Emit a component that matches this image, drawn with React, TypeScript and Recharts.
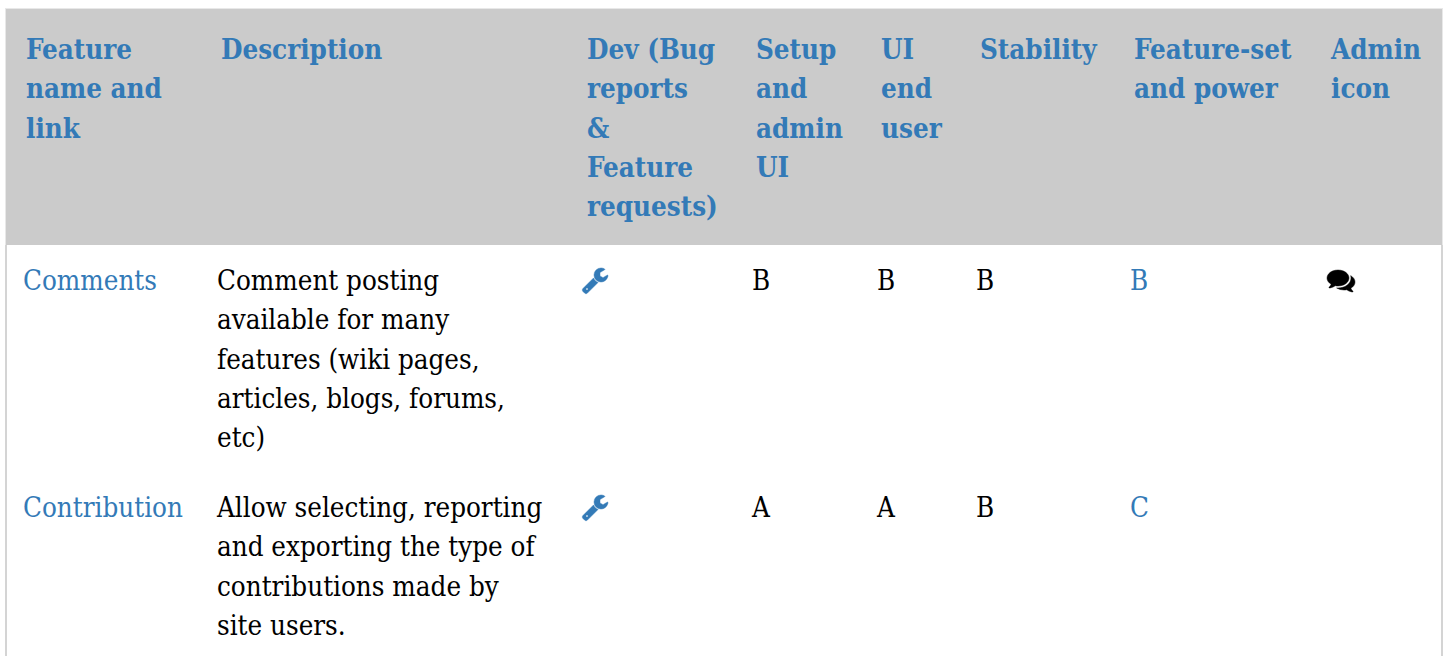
import { ReferenceArea, ReferenceLine, Scatter, ScatterChart, XAxis, YAxis } from "recharts"

// table content
const headers = [
  ["Feature", "name and", "link"],
  ["Description"],
  ["Dev (Bug", "reports", "&", "Feature", "requests)"],
  ["Setup", "and", "admin", "UI"],
  ["UI", "end", "user"],
  ["Stability"],
  ["Feature-set", "and power"],
  ["Admin", "icon"],
]
const features = ["Comments", "Contribution"]
const descriptions = [
  ["Comment posting", "available for many", "features (wiki pages,", "articles, blogs, forums,", "etc)"],
  ["Allow selecting, reporting", "and exporting the type of", "contributions made by", "site users."],
]
const setupGrades = ["B", "A"]
const uiGrades = ["B", "A"]
const stabilityGrades = ["B", "B"]
const powerGrades = ["B", "C"]

// layout
const W = 1448
const H = 656
const headerX = [26, 221, 587, 756, 881, 980, 1134, 1331]
const bodyX = [23, 217, 583, 752, 877, 976, 1130, 1327]
const headerBase = 59
const rowBase = [290, 517]
const lineH = 39.3
const BLUE = "#337ab7"
const FONT = "'DejaVu Serif Condensed', 'DejaVu Serif', serif"
const FONT_SIZE = 27.5

const WRENCH =
  "M384 1344q0-26-19-45t-45-19-45 19-19 45 19 45 45 19 45-19 19-45zm644-420l-682 682q-37 37-90 37-52 0-91-37l-106-108q-38-36-38-90 0-53 38-91l680-680q39 98 114.5 173.5t173.5 114.5zm634-435q0 39-23 106-47 134-164.5 217.5t-258.5 83.5q-185 0-316.5-131.5t-131.5-316.5 131.5-316.5 316.5-131.5q58 0 121.5 16.5t107.5 46.5q16 11 16 28t-16 28l-293 169v224l193 107q5-3 79-48.5t135.5-81 70.5-35.5q15 0 23.5 10t8.5 25z"
const COMMENTS =
  "M1408 768q0 139-94 257t-256.5 186.5-353.5 68.5q-86 0-176-16-124 88-278 128-36 9-86 16h-3q-11 0-20.5-8t-11.5-21q-1-3-1-6.5t.5-6.5 2-6l2.5-5 3.5-5.5 4-5 4.5-5 4-4.5q5-6 23-25t26-29.5 22.5-29 25-38.5 20.5-44q-124-72-195-177t-71-224q0-139 94-257t256.5-186.5 353.5-68.5 353.5 68.5 256.5 186.5 94 257zm384 256q0 120-71 224.5t-195 176.5q10 24 20.5 44t25 38.5 22.5 29 26 29.5 23 25q1 1 4 4.5t4.5 5 4 5 3.5 5.5l2.5 5 2 6 .5 6.5-1 6.5q-3 14-13 22t-22 7q-50-7-86-16-154-40-278-128-90 16-176 16-271 0-472-132 58 4 88 4 161 0 309-45t264-129q125-92 192-212t67-254q0-77-23-152 129 71 204 178t75 230z"

const headerCells = headers.flatMap((lines, c) =>
  lines.map((text, i) => ({ x: headerX[c], y: headerBase + i * lineH, text })),
)
const linkCells = [
  ...features.map((text, r) => ({ x: bodyX[0], y: rowBase[r], text })),
  ...powerGrades.map((text, r) => ({ x: bodyX[6], y: rowBase[r], text })),
]
const textCells = [
  ...descriptions.flatMap((lines, r) =>
    lines.map((text, i) => ({ x: bodyX[1], y: rowBase[r] + i * lineH, text })),
  ),
  ...[setupGrades, uiGrades, stabilityGrades].flatMap((col, c) =>
    col.map((text, r) => ({ x: bodyX[3 + c], y: rowBase[r], text })),
  ),
]
const wrenchCells = rowBase.map((y) => ({ x: bodyX[2], y }))
const commentCells = [{ x: bodyX[7], y: rowBase[0] }]

const label = (fill: string, weight: string) => (p: any) => (
  <text x={p.cx} y={p.cy} fill={fill} fontFamily={FONT} fontSize={FONT_SIZE} fontWeight={weight}>
    {p.payload.text}
  </text>
)

const icon = (d: string, fill: string, size: number, dx: number, dy: number) => (p: any) => (
  <path
    d={d}
    fill={fill}
    stroke={fill}
    strokeWidth={30}
    transform={`translate(${p.cx + dx} ${p.cy + dy}) scale(${size / 1792})`}
  />
)

export default function App() {
  return (
    <div style={{ position: "absolute", left: 0, top: 0, width: W, height: H, background: "#fff" }}>
      <ScatterChart width={W} height={H} margin={{ top: 0, right: 0, bottom: 0, left: 0 }}>
        <XAxis type="number" dataKey="x" domain={[0, W]} hide />
        <YAxis type="number" dataKey="y" domain={[0, H]} reversed hide />
        <ReferenceArea x1={6} x2={1442} y1={9} y2={245} fill="#cbcbcb" fillOpacity={1} stroke="none" />
        <ReferenceLine segment={[{ x: 5, y: 8.5 }, { x: 1443, y: 8.5 }]} stroke="#e8e8e8" />
        <ReferenceLine segment={[{ x: 5.5, y: 9 }, { x: 5.5, y: 245 }]} stroke="#e8e8e8" />
        <ReferenceLine segment={[{ x: 1442.5, y: 9 }, { x: 1442.5, y: 245 }]} stroke="#e8e8e8" />
        <ReferenceLine segment={[{ x: 6, y: 245 }, { x: 6, y: H }]} stroke="#d4d4d4" strokeWidth={2} />
        <ReferenceLine segment={[{ x: 1442, y: 245 }, { x: 1442, y: H }]} stroke="#d4d4d4" strokeWidth={2} />
        <Scatter data={headerCells} isAnimationActive={false} shape={label(BLUE, "bold")} />
        <Scatter data={linkCells} isAnimationActive={false} shape={label(BLUE, "normal")} />
        <Scatter data={textCells} isAnimationActive={false} shape={label("#000", "normal")} />
        <Scatter data={wrenchCells} isAnimationActive={false} shape={icon(WRENCH, BLUE, 28, -1, -22)} />
        <Scatter data={commentCells} isAnimationActive={false} shape={icon(COMMENTS, "#000", 28, 0, -24)} />
      </ScatterChart>
    </div>
  )
}
